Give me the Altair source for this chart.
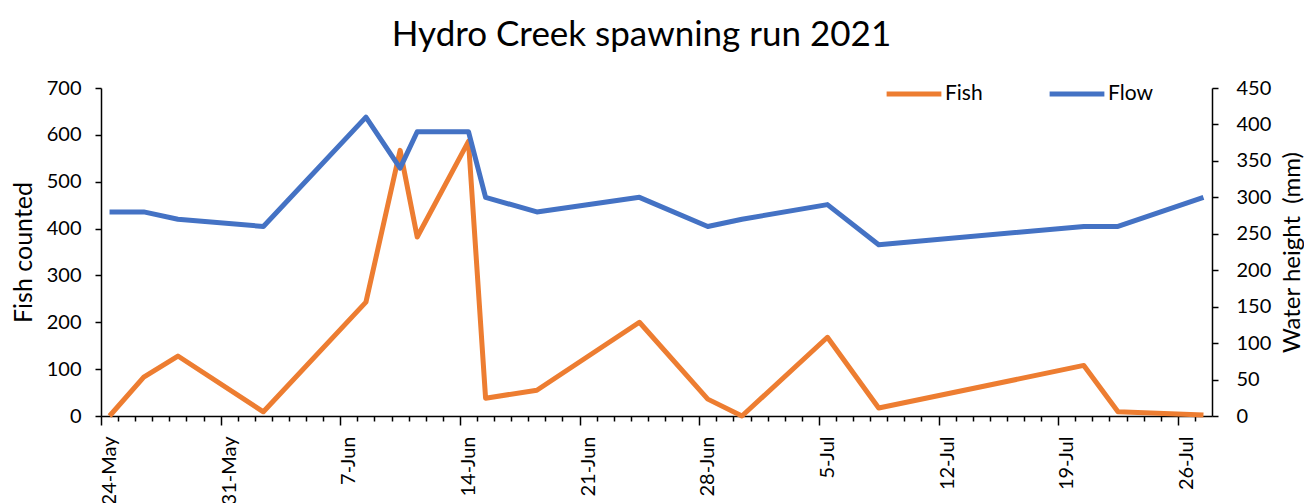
import json
import altair as alt
import pandas as pd

DATES = ["2021-05-24", "2021-05-26", "2021-05-28", "2021-06-02", "2021-06-08",
         "2021-06-10", "2021-06-11", "2021-06-14", "2021-06-15", "2021-06-18",
         "2021-06-24", "2021-06-28", "2021-06-30", "2021-07-05", "2021-07-08",
         "2021-07-20", "2021-07-22", "2021-07-27"]
FISH = [0, 83, 128, 9, 243, 567, 382, 586, 38, 55, 200, 36, 0, 168, 17, 108, 9, 2]
FLOW = [280, 280, 270, 260, 410, 340, 390, 390, 300, 280, 300, 260, 270, 290, 235, 260, 260, 300]
TICK_LABELS = ["24-May", "31-May", "7-Jun", "14-Jun", "21-Jun", "28-Jun",
               "5-Jul", "12-Jul", "19-Jul", "26-Jul"]
SERIES = ["Fish", "Flow"]
COLORS = ["#ED7D31", "#4472C4"]
START = "2021-05-24"
N_DAYS = 65

FONT = "Lato"
W, H = 1111, 328
slot = W / N_DAYS

day = (pd.to_datetime(DATES) - pd.Timestamp(START)).days
fish_df = pd.DataFrame({"day": day, "value": FISH, "series": SERIES[0]})
flow_df = pd.DataFrame({"day": day, "value": FLOW, "series": SERIES[1]})

label_expr = ("datum.value % 7 === 0 ? " + json.dumps(TICK_LABELS) +
              "[datum.value / 7] : ''")

x_axis = alt.Axis(
    values=list(range(N_DAYS)), title=None, grid=False,
    orient="bottom", labelExpr=label_expr, labelAngle=-90,
    labelAlign="right", labelBaseline="middle", labelPadding=11,
    labelFontSize=20, labelOverlap=False, labelFlush=False,
    tickOffset=-slot / 2, labelOffset=slot / 2,
    tickSize={"condition": {"test": "datum.value % 7 === 0", "value": 9}, "value": 5},
    tickColor="black", tickWidth=1.5, domainColor="black", domainWidth=1.5,
)
x_enc = alt.X("day:Q", scale=alt.Scale(domain=[-0.5, N_DAYS - 0.5], nice=False, zero=False),
              axis=x_axis)

color_enc = alt.Color("series:N", scale=alt.Scale(domain=SERIES, range=COLORS),
                      legend=alt.Legend(title=None, orient="none", legendX=783, legendY=-24,
                                        direction="horizontal", symbolType="stroke",
                                        symbolStrokeWidth=5, symbolSize=3000,
                                        labelFontSize=21, columnPadding=56, labelOffset=1))

fish = alt.Chart(fish_df).mark_line(strokeWidth=5, strokeJoin="round").encode(
    x=x_enc,
    y=alt.Y("value:Q", scale=alt.Scale(domain=[0, 700], nice=False),
            axis=alt.Axis(orient="left", values=list(range(0, 701, 100)), title="Fish counted",
                          grid=False, tickSize=6, labelPadding=14, labelFontSize=20,
                          titleFontSize=25, titleFontWeight="normal", titlePadding=10,
                          tickColor="black", domainColor="black", domainWidth=1.5,
                          tickWidth=1.5)),
    color=color_enc,
)
flow = alt.Chart(flow_df).mark_line(strokeWidth=5, strokeJoin="round").encode(
    x=x_enc,
    y=alt.Y("value:Q", scale=alt.Scale(domain=[0, 450], nice=False),
            axis=alt.Axis(orient="right", values=list(range(0, 451, 50)),
                          title="Water height\u00a0 (mm)", titleAngle=270,
                          titleBaseline="top",
                          grid=False, tickSize=6, labelPadding=18, labelFontSize=20,
                          titleFontSize=24, titleFontWeight="normal", titlePadding=10,
                          tickColor="black", domainColor="black", domainWidth=1.5,
                          tickWidth=1.5)),
    color=color_enc,
)

chart = alt.layer(fish, flow).resolve_scale(y="independent").properties(
    width=W, height=H,
    autosize=alt.AutoSizeParams(type="none"),
    padding={"left": 93, "top": 80, "right": 92, "bottom": 90},
    title=alt.TitleParams("Hydro Creek spawning run 2021", fontSize=35, fontWeight="normal",
                          anchor="middle", offset=11, dx=-15, font=FONT, color="black"),
).configure(font=FONT).configure_view(stroke=None).configure_axis(
    labelColor="black", titleColor="black", labelFont=FONT, titleFont=FONT
).configure_legend(labelFont=FONT, labelColor="black")

chart.save("out.html", embed_options={"renderer": "svg", "actions": False})
